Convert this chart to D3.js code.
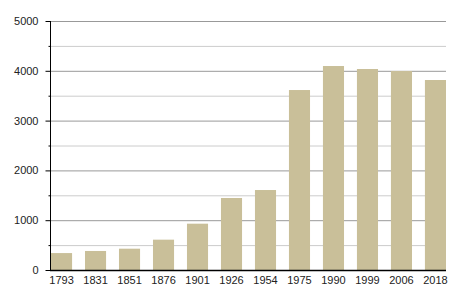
<!DOCTYPE html>
<html>
<head>
<meta charset="utf-8">
<script src="https://cdn.jsdelivr.net/npm/d3@7"></script>
<style>
  body { margin: 0; background: #fff; }
  svg text { font-family: "Liberation Sans", Arial, sans-serif; font-size: 11px; fill: #222; }
</style>
</head>
<body>
<div id="chart"></div>
<script>
var years = ["1793", "1831", "1851", "1876", "1901", "1926", "1954", "1975", "1990", "1999", "2006", "2018"];
var population = [340, 382, 428, 609, 930, 1446, 1606, 3614, 4096, 4036, 3996, 3815];
var majorTicks = [0, 1000, 2000, 3000, 4000, 5000];
var minorTicks = [500, 1500, 2500, 3500, 4500];

var width = 455, height = 300;
var margin = { top: 21, right: 9, bottom: 30, left: 50 };

var svg = d3.select("#chart").append("svg")
  .attr("width", width)
  .attr("height", height);

var x = d3.scaleBand()
  .domain(years)
  .range([margin.left + 1, width - margin.right])
  .paddingInner(0.38)
  .paddingOuter(0);

var y = d3.scaleLinear()
  .domain([0, 5000])
  .range([height - margin.bottom, margin.top]);

// grid lines
svg.append("g").selectAll("line.minor")
  .data(minorTicks).enter().append("line")
  .attr("x1", margin.left).attr("x2", width - margin.right)
  .attr("y1", function (d) { return y(d) + 0.5; })
  .attr("y2", function (d) { return y(d) + 0.5; })
  .attr("stroke", "#cccccc");

svg.append("g").selectAll("line.major")
  .data(majorTicks.slice(1)).enter().append("line")
  .attr("x1", margin.left).attr("x2", width - margin.right)
  .attr("y1", function (d) { return y(d) + 0.5; })
  .attr("y2", function (d) { return y(d) + 0.5; })
  .attr("stroke", "#999999");

// bars
svg.append("g").selectAll("rect")
  .data(years).enter().append("rect")
  .attr("x", function (d) { return x(d); })
  .attr("width", x.bandwidth())
  .attr("y", function (d, i) { return y(population[i]); })
  .attr("height", function (d, i) { return y(0) - y(population[i]); })
  .attr("fill", "#c9bf99");

// y axis
var yAxis = d3.axisLeft(y).tickValues(majorTicks).tickFormat(d3.format("d"))
  .tickSize(5).tickPadding(7);
var gy = svg.append("g")
  .attr("transform", "translate(" + (margin.left + 0.5) + ",0)")
  .call(yAxis);
gy.select(".domain").attr("stroke", "#000").attr("d", "M0," + y(5000) + "V" + y(0));
gy.selectAll(".tick line").attr("stroke", "#000");
gy.selectAll("text").style("fill", "#222");
gy.append("g").selectAll("line")
  .data(minorTicks).enter().append("line")
  .attr("x1", -2).attr("x2", 0)
  .attr("y1", function (d) { return y(d) + 0.5; })
  .attr("y2", function (d) { return y(d) + 0.5; })
  .attr("stroke", "#000");

// x axis
var xAxis = d3.axisBottom(x).tickSize(0).tickPadding(6);
var gx = svg.append("g")
  .attr("transform", "translate(0," + (y(0) + 0.5) + ")")
  .call(xAxis);
gx.select(".domain").attr("stroke", "#000").attr("stroke-width", 1.5)
  .attr("d", "M" + margin.left + ",0H" + (width - margin.right));
gx.selectAll("text").style("fill", "#222");
</script>
</body>
</html>
